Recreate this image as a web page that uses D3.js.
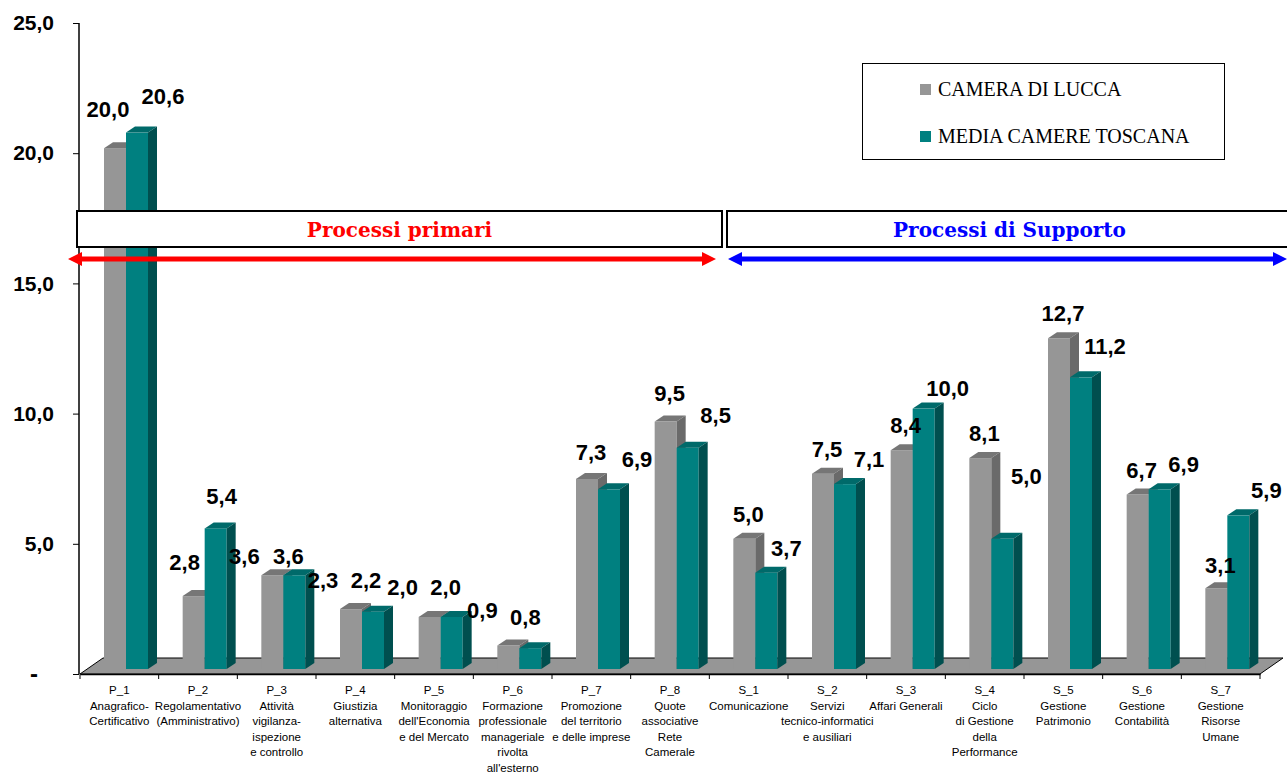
<!DOCTYPE html>
<html>
<head>
<meta charset="utf-8">
<script src="https://cdn.jsdelivr.net/npm/d3@7"></script>
<style>
  body { margin: 0; background: #fff; }
  svg { display: block; }
</style>
</head>
<body>
<div id="chart"></div>
<script>
// categories, split into lines as they appear under the axis
var codes = ["P_1", "P_2", "P_3", "P_4", "P_5", "P_6", "P_7", "P_8",
             "S_1", "S_2", "S_3", "S_4", "S_5", "S_6", "S_7"];
var names = [
    ["Anagrafico-", "Certificativo"],
    ["Regolamentativo", "(Amministrativo)"],
    ["Attività", "vigilanza-", "ispezione", "e controllo"],
    ["Giustizia", "alternativa"],
    ["Monitoraggio", "dell'Economia", "e del Mercato"],
    ["Formazione", "professionale", "manageriale", "rivolta", "all'esterno"],
    ["Promozione", "del territorio", "e delle imprese"],
    ["Quote", "associative", "Rete", "Camerale"],
    ["Comunicazione"],
    ["Servizi", "tecnico-informatici", "e ausiliari"],
    ["Affari Generali"],
    ["Ciclo", "di Gestione", "della", "Performance"],
    ["Gestione", "Patrimonio"],
    ["Gestione", "Contabilità"],
    ["Gestione", "Risorse", "Umane"]
];
var lucca   = [20.0, 2.8, 3.6, 2.3, 2.0, 0.9, 7.3, 9.5, 5.0, 7.5, 8.4, 8.1, 12.7, 6.7, 3.1];
var toscana = [20.6, 5.4, 3.6, 2.2, 2.0, 0.8, 6.9, 8.5, 3.7, 7.1, 10.0, 5.0, 11.2, 6.9, 5.9];
var seriesNames = ["CAMERA DI LUCCA", "MEDIA CAMERE TOSCANA"];
var yTicks = [0, 5, 10, 15, 20, 25];
var groups = [
    {name: "Processi primari", color: "#ff0000"},
    {name: "Processi di Supporto", color: "#0000ff"}
];

// hand moved data labels in the original: [gray dx, gray dy, teal dx, teal dy]
var labelNudge = [
    [-11, -14, 2, -12], [-13, -9, -18, -7], [-32, 6, -30, 6], [-32, -4, -31, -7],
    [-31, -5, -30, -5], [-30, -11, -29, -6], [0, -2, 4, -5], [0, -4, 4, -8],
    [0, 0, -4, 0], [0, 0, 0, 0], [0, 0, 0, 4], [0, 0, 0, -38],
    [0, 0, 0, -6], [0, 0, 0, 0], [0, 2, 4, 0]
];

var width = 1287, height = 774;
var plotL = 80, plotR = 1260, plotT = 23, plotB = 674;

var it = d3.formatLocale({decimal: ",", thousands: ".", grouping: [3], currency: ["", "€"]});
var fmt = it.format(".1f");

var svg = d3.select("#chart").append("svg")
    .attr("width", width)
    .attr("height", height);

var x = d3.scaleBand().domain(codes).range([plotL, plotR]);
var y = d3.scaleLinear().domain([0, 25]).range([plotB, plotT]);

// floor of the 3d chart
var fdx = 23, fdy = -16;
svg.append("path")
    .attr("d", "M" + plotL + "," + plotB + "L" + (plotL + fdx) + "," + (plotB + fdy) +
               "L" + (plotR + fdx) + "," + (plotB + fdy) + "L" + plotR + "," + plotB + "Z")
    .attr("fill", "#969696")
    .attr("stroke", "#000")
    .attr("stroke-width", 1);

// y axis
var yAxis = svg.append("g").attr("transform", "translate(" + (plotL - 1) + ",0)")
    .call(d3.axisLeft(y).tickValues(yTicks).tickSize(6).tickPadding(19)
        .tickFormat(function(d) { return d === 0 ? "-" : fmt(d); }));
yAxis.select(".domain").attr("stroke", "#000").attr("stroke-width", 1.5).attr("d", "M0," + plotT + "V" + plotB);
yAxis.selectAll("text")
    .attr("font-family", "Liberation Sans, Arial, sans-serif")
    .attr("font-weight", "bold")
    .attr("font-size", 21)
    .attr("fill", "#000");
yAxis.selectAll(".tick").filter(function(d) { return d === 0; }).select("text")
    .attr("dx", -16).attr("font-size", 24);

// x axis line and ticks
var xAxis = svg.append("g").attr("transform", "translate(0," + plotB + ")")
    .call(d3.axisBottom(x).tickSize(0).tickFormat(""));
xAxis.select(".domain").attr("stroke", "#000").attr("stroke-width", 1.5);
svg.append("g").selectAll("line")
    .data(codes.concat(["end"]))
    .join("line")
    .attr("x1", function(d, i) { return plotL + i * x.bandwidth(); })
    .attr("x2", function(d, i) { return plotL + i * x.bandwidth(); })
    .attr("y1", plotB)
    .attr("y2", plotB + 5)
    .attr("stroke", "#000");

// category labels
var catText = svg.append("g").selectAll("text")
    .data(codes)
    .join("text")
    .attr("x", function(d) { return x(d) + x.bandwidth() / 2; })
    .attr("y", 694)
    .attr("text-anchor", "middle")
    .attr("font-family", "Liberation Sans, Arial, sans-serif")
    .attr("font-size", 11.5)
    .attr("fill", "#000");
catText.each(function(d, i) {
    var t = d3.select(this);
    [d].concat(names[i]).forEach(function(line, j) {
        t.append("tspan")
            .attr("x", x(d) + x.bandwidth() / 2)
            .attr("dy", j === 0 ? 0 : 15.5)
            .text(line);
    });
});

// 3d bars
var barW = 22, bdx = 9, bdy = -6, lift = -5;
var series = [
    {values: lucca, off: 24, front: "#969696", top: "#767676", side: "#6a6a6a", labelDx: 4},
    {values: toscana, off: 46, front: "#008080", top: "#006a6a", side: "#004f4f", labelDx: 24}
];
var barsG = svg.append("g");
codes.forEach(function(c, i) {
    series.forEach(function(s) {
        var v = s.values[i];
        var x0 = x(c) + s.off, x1 = x0 + barW;
        var yb = y(0) + lift, yt = y(v) + lift;
        var g = barsG.append("g");
        g.append("rect")
            .attr("x", x0).attr("y", yt)
            .attr("width", barW).attr("height", yb - yt)
            .attr("fill", s.front);
        g.append("path")
            .attr("d", "M" + x0 + "," + yt + "L" + (x0 + bdx) + "," + (yt + bdy) +
                       "L" + (x1 + bdx) + "," + (yt + bdy) + "L" + x1 + "," + yt + "Z")
            .attr("fill", s.top);
        g.append("path")
            .attr("d", "M" + x1 + "," + yt + "L" + (x1 + bdx) + "," + (yt + bdy) +
                       "L" + (x1 + bdx) + "," + (yb + bdy) + "L" + x1 + "," + yb + "Z")
            .attr("fill", s.side);
    });
});

// value labels
var labelsG = svg.append("g");
codes.forEach(function(c, i) {
    series.forEach(function(s, k) {
        var v = s.values[i];
        var n = labelNudge[i];
        labelsG.append("text")
            .attr("x", x(c) + s.off + barW / 2 + s.labelDx + n[k * 2])
            .attr("y", y(v) + lift - 17 + n[k * 2 + 1])
            .attr("text-anchor", "middle")
            .attr("font-family", "Liberation Sans, Arial, sans-serif")
            .attr("font-weight", "bold")
            .attr("font-size", 22)
            .attr("fill", "#000")
            .text(fmt(v));
    });
});

// group boxes and arrows
var boxTop = 211, boxH = 36, arrowY = 259;
var groupExtent = [[77, 722], [727, 1292]];
var arrowExtent = [[68, 716], [728, 1287]];
groups.forEach(function(gr, i) {
    var bx = groupExtent[i];
    svg.append("rect")
        .attr("x", bx[0]).attr("y", boxTop)
        .attr("width", bx[1] - bx[0]).attr("height", boxH)
        .attr("fill", "#fff")
        .attr("stroke", "#000")
        .attr("stroke-width", 2);
    svg.append("text")
        .attr("x", (bx[0] + bx[1]) / 2)
        .attr("y", boxTop + 26)
        .attr("text-anchor", "middle")
        .attr("font-family", "DejaVu Serif, serif")
        .attr("font-weight", "bold")
        .attr("font-size", 20)
        .attr("fill", gr.color)
        .text(gr.name);

    var a = arrowExtent[i], ah = 14, aw = 7;
    svg.append("line")
        .attr("x1", a[0] + ah - 2).attr("x2", a[1] - ah + 2)
        .attr("y1", arrowY).attr("y2", arrowY)
        .attr("stroke", gr.color)
        .attr("stroke-width", 5);
    svg.append("path")
        .attr("d", "M" + a[0] + "," + arrowY + "L" + (a[0] + ah) + "," + (arrowY - aw) +
                   "L" + (a[0] + ah) + "," + (arrowY + aw) + "Z")
        .attr("fill", gr.color);
    svg.append("path")
        .attr("d", "M" + a[1] + "," + arrowY + "L" + (a[1] - ah) + "," + (arrowY - aw) +
                   "L" + (a[1] - ah) + "," + (arrowY + aw) + "Z")
        .attr("fill", gr.color);
});

// legend
var legend = svg.append("g");
legend.append("rect")
    .attr("x", 862.5).attr("y", 63.5)
    .attr("width", 362).attr("height", 96)
    .attr("fill", "#fff")
    .attr("stroke", "#000");
seriesNames.forEach(function(n, i) {
    var ly = 89 + i * 47;
    legend.append("rect")
        .attr("x", 920).attr("y", ly - 5)
        .attr("width", 11).attr("height", 11)
        .attr("fill", series[i].front);
    legend.append("text")
        .attr("x", 938).attr("y", ly + 7)
        .attr("font-family", "Liberation Serif, Times New Roman, serif")
        .attr("font-size", 20)
        .attr("fill", "#000")
        .text(n);
});
</script>
</body>
</html>
